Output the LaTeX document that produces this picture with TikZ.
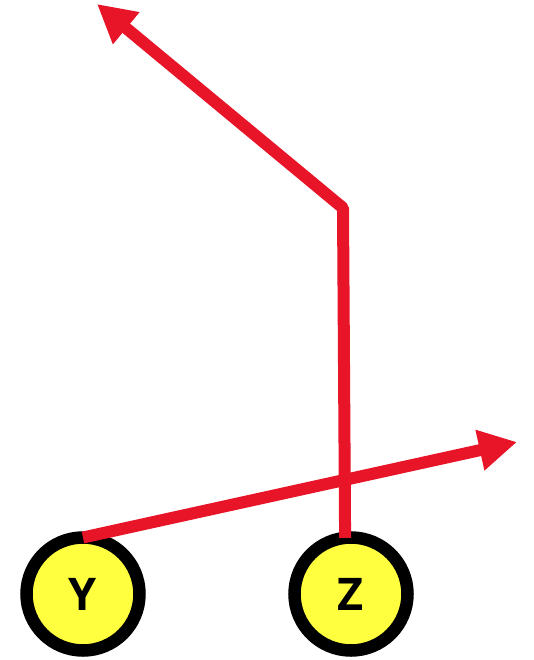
\documentclass[tikz,border=0pt]{standalone}
\usepackage{fontspec}
\setmainfont{Open Sans}
\usetikzlibrary{arrows.meta}
\definecolor{arrowred}{RGB}{232,20,40}
\definecolor{nodeyellow}{RGB}{255,255,64}
\begin{document}
\begin{tikzpicture}[x=1pt,y=-1pt,
  varnode/.style={circle,draw=black,line width=12.5pt,fill=nodeyellow,minimum size=113pt,inner sep=0pt,outer sep=0pt,font=\fontsize{45}{45}\selectfont\bfseries},
  redline/.style={draw=arrowred,line width=12pt,line join=bevel,-{Triangle[length=38pt,width=39pt]}}]
\useasboundingbox (0,0) rectangle (533,660);
\node[varnode] (Y) at (83,594) {Y};
\node[varnode] (Z) at (351,594) {Z};
\coordinate (tipR) at (517,442);
\coordinate (bend) at (343,208);
\coordinate (tipL) at (97,4);
\draw[redline] (Y.north) -- (tipR);
\draw[redline] (Z.96) -- (bend) -- (tipL);
\end{tikzpicture}
\end{document}
